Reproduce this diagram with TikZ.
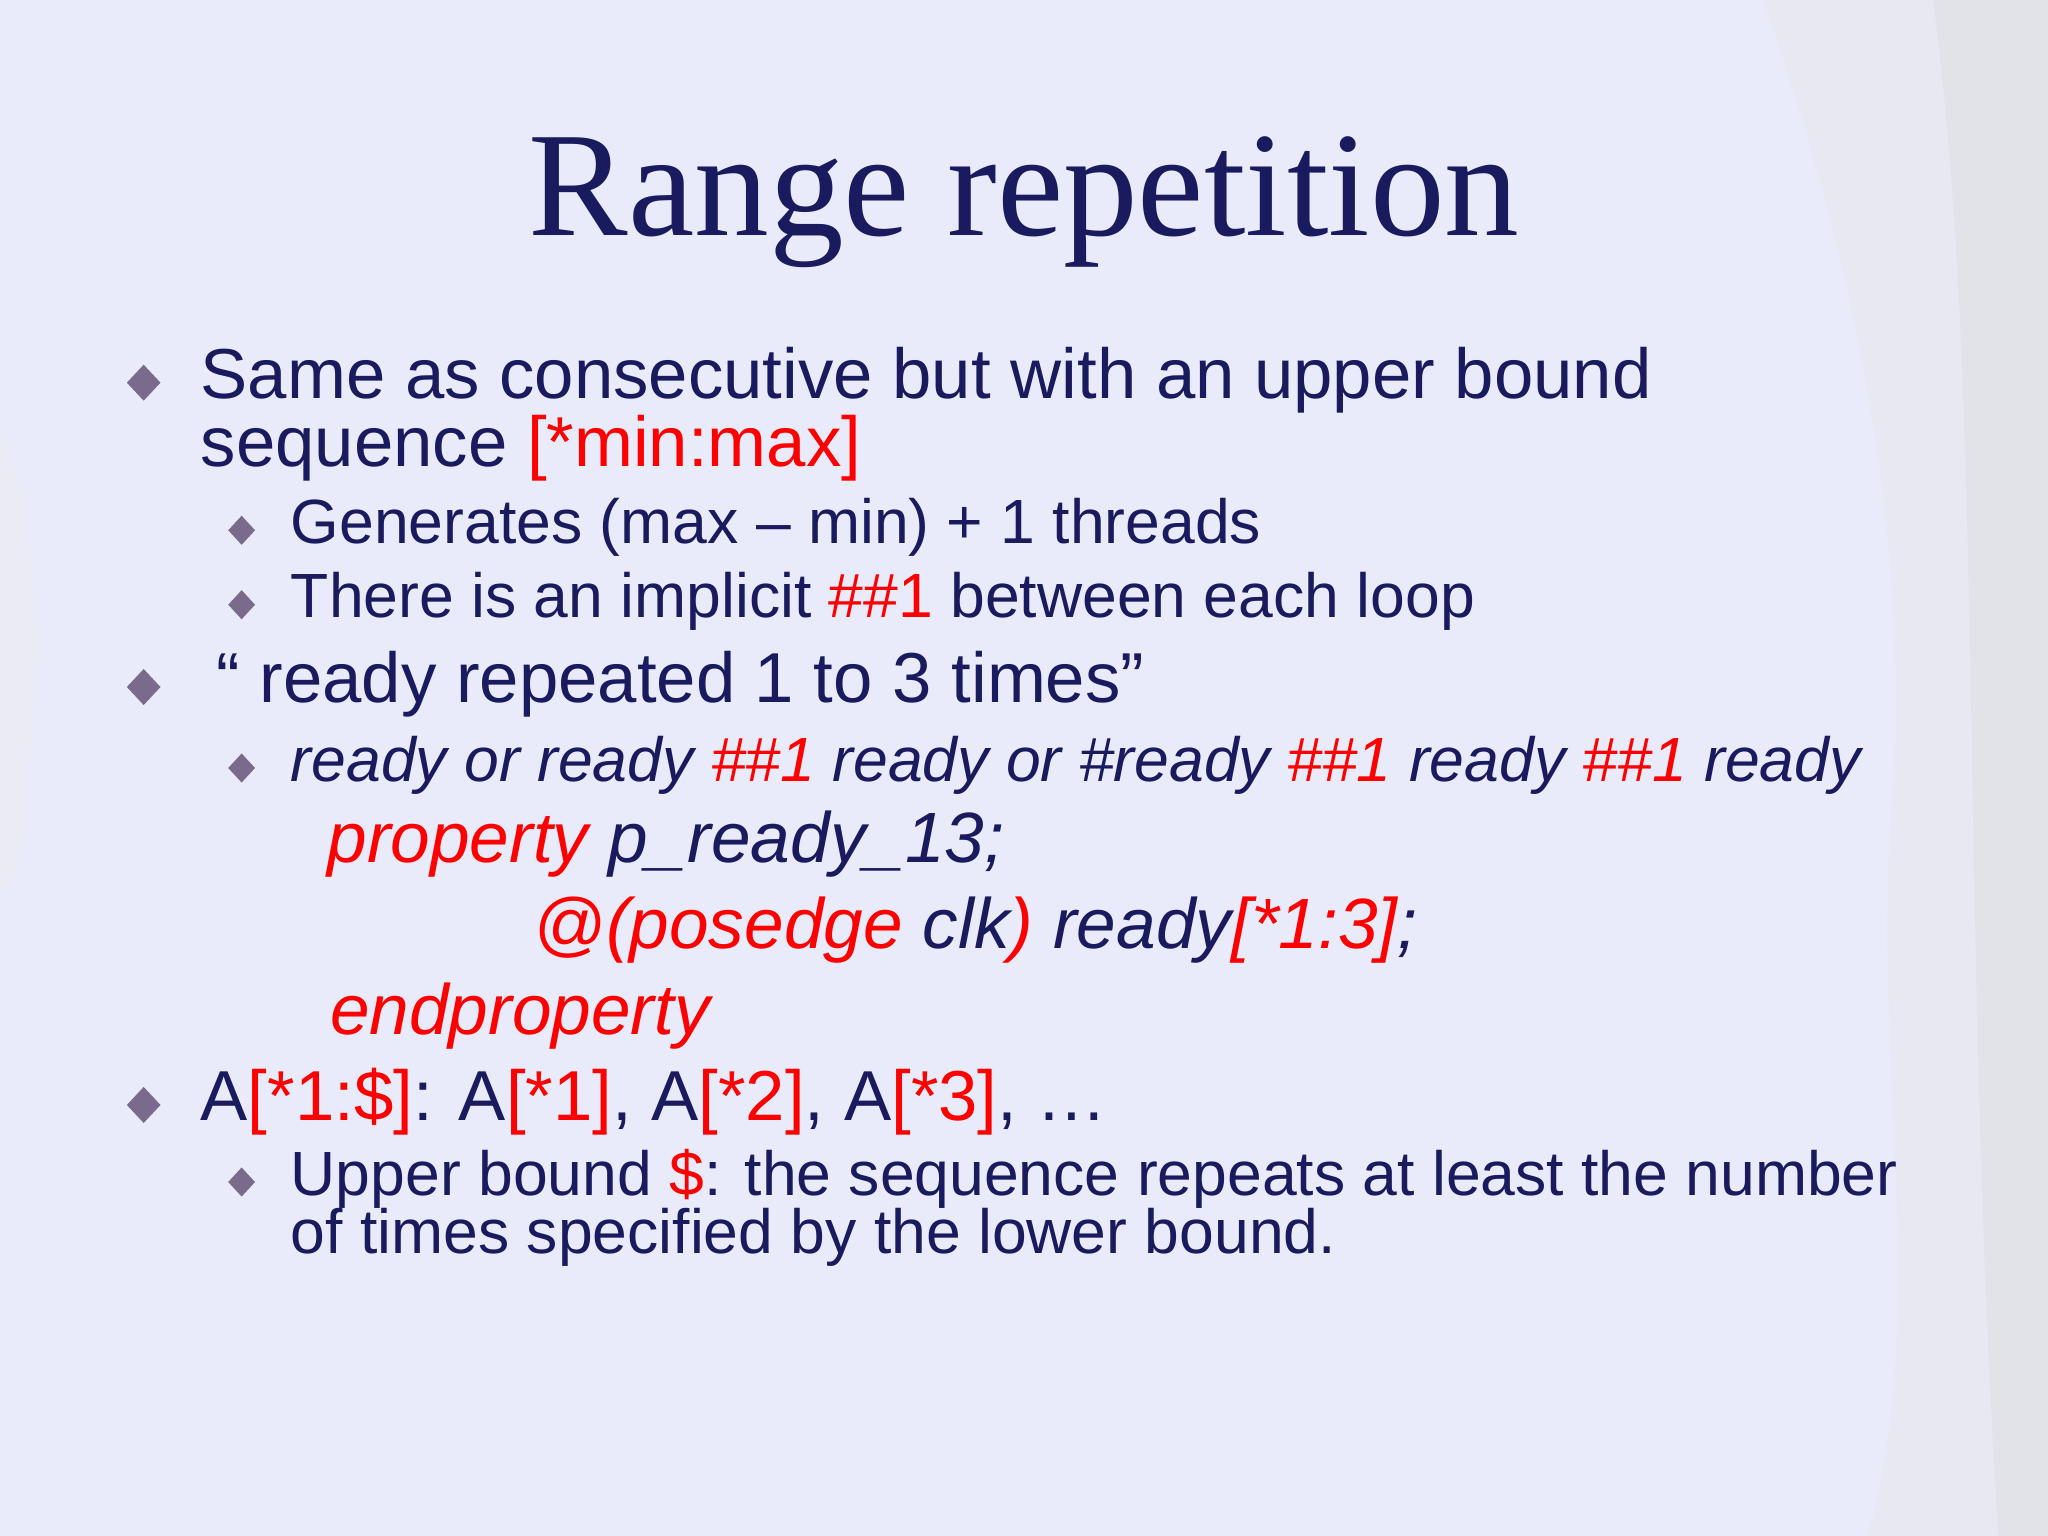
\documentclass[tikz,border=0pt]{standalone}
\usepackage{fontspec}
\setmainfont{Liberation Sans}
\newfontfamily\titlefont{Liberation Serif}
\usetikzlibrary{shapes.geometric}
\definecolor{bg}{HTML}{E9EBFA}
\definecolor{navy}{HTML}{1A1A5E}
\definecolor{red1}{HTML}{FF0000}
\definecolor{bul}{HTML}{7A6A8C}
\tikzset{
  t1/.style={anchor=base west,inner sep=0,text=navy,font=\fontsize{15.4}{18}\selectfont},
  t2/.style={anchor=base west,inner sep=0,text=navy,font=\fontsize{13.6}{16}\selectfont},
  tc/.style={anchor=base west,inner sep=0,text=navy,font=\fontsize{15.5}{18}\selectfont\itshape},
  b1/.style={diamond,fill=bul,inner sep=0,minimum width=7.5pt,minimum height=8pt},
  b2/.style={diamond,fill=bul,inner sep=0,minimum width=6pt,minimum height=6.5pt},
}
\newcommand{\rd}[1]{\textcolor{red1}{#1}}
\begin{document}
\begin{tikzpicture}[x=0.01cm,y=-0.01cm]
\fill[bg] (0,0) rectangle (1568,1176);
\useasboundingbox (0,0) rectangle (1568,1176);
% faint texture on the edges
\fill[gray!20,opacity=0.35] (1350,0) .. controls (1420,200) and (1460,400) .. (1450,600) .. controls (1430,800) and (1480,1000) .. (1430,1176) -- (1568,1176) -- (1568,0) -- cycle;
\fill[gray!30,opacity=0.35] (1480,0) .. controls (1520,300) and (1500,700) .. (1530,1176) -- (1568,1176) -- (1568,0) -- cycle;
\fill[gray!15,opacity=0.35] (0,330) .. controls (40,420) and (30,560) .. (10,680) -- (0,680) -- cycle;
% title
\node[anchor=base,inner sep=0,text=navy,font=\titlefont\fontsize{32.5}{38}\selectfont] (title) at (784,180) {Range repetition};
% bullets
\node[b1] (d1) at (110,293) {};
\node[t1] (l1) at (153,305) {Same as consecutive but with an upper bound};
\node[t1] (l1b) at (153,357) {sequence \rd{[*min:max]}};
\node[b2] (d2) at (185,406) {};
\node[t2] (l2) at (222,416) {Generates (max – min) + 1 threads};
\node[b2] (d3) at (185,463) {};
\node[t2] (l3) at (222,473) {There is an implicit \rd{\#\#1} between each loop};
\node[b1] (d4) at (110,526) {};
\node[t1] (l4) at (165,538) {“ ready repeated 1 to 3 times”};
\node[b2] (d5) at (185,588) {};
\node[t2,font=\fontsize{13.6}{16}\selectfont\itshape] (l5) at (222,598) {ready or ready \rd{\#\#1} ready or \#ready \rd{\#\#1} ready \rd{\#\#1} ready};
\node[tc] (c1) at (250,660) {\rd{property} p\_ready\_13;};
\node[tc] (c2) at (408,726) {\rd{@(posedge} clk\rd{)} ready\rd{[*1:3]};};
\node[tc] (c3) at (252,792) {\rd{endproperty}};
\node[b1] (d6) at (110,846) {};
\node[t1] (l6) at (153,858) {A\rd{[*1:\$]}: A\rd{[*1]}, A\rd{[*2]}, A\rd{[*3]}, …};
\node[b2] (d7) at (185,905) {};
\node[t2] (l7) at (222,915) {Upper bound \rd{\$}: the sequence repeats at least the number};
\node[t2] (l7b) at (222,960) {of times specified by the lower bound.};
\end{tikzpicture}
\end{document}
